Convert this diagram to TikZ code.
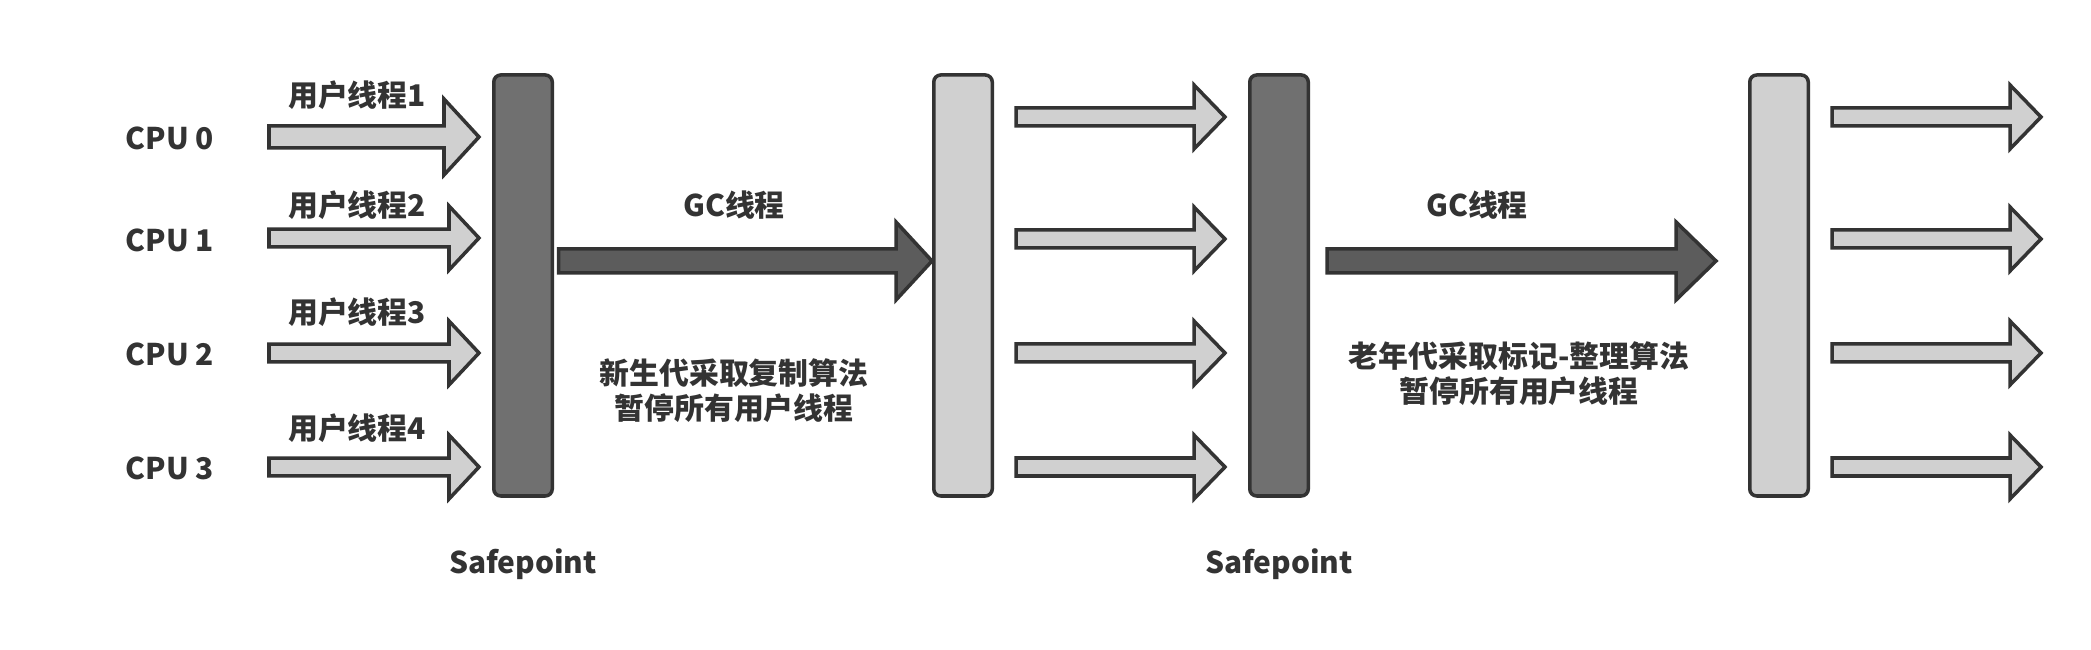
\documentclass[tikz,border=0pt]{standalone}
\usepackage{fontspec}
\newfontfamily\cjk{Noto Sans CJK SC}
\usetikzlibrary{calc}
\definecolor{edgegray}{HTML}{333333}
\definecolor{bardark}{HTML}{707070}
\definecolor{barlight}{HTML}{D0D0D0}
\definecolor{gcgray}{HTML}{5C5C5C}
\def\blockarrow[#1](#2)(#3)(#4:#5:#6){\draw[#1] ($(#2)+(0,-#4)$) -- ($(#3)+(-#6,-#4)$) -- ($(#3)+(-#6,-#5)$) -- (#3) -- ($(#3)+(-#6,#5)$) -- ($(#3)+(-#6,#4)$) -- ($(#2)+(0,#4)$) -- cycle;}

\begin{document}
\begin{tikzpicture}[
		lbl/.style={font=\cjk\bfseries\fontsize{8.5}{10}\selectfont, text=edgegray, inner sep=0, align=center},
		bar/.style={draw=edgegray, line width=1pt, rounded corners=0.07cm, minimum width=0.585cm, minimum height=4.21cm, inner sep=0},
		darkbar/.style={bar, fill=bardark},
		lightbar/.style={bar, fill=barlight},
		userarrow/.style={draw=edgegray, line width=1pt, fill=barlight},
		gcarrow/.style={draw=edgegray, line width=1pt, fill=gcgray}]
			%%%%% START %%%%%
			
			\useasboundingbox (0, 0) rectangle (20.91, 6.5);
			
			\node[darkbar] (safe1) at (5.23, 3.645) {};
			\node[lightbar] (run1) at (9.63, 3.645) {};
			\node[darkbar] (safe2) at (12.79, 3.645) {};
			\node[lightbar] (run2) at (17.79, 3.645) {};
			
			\node[lbl] (cpu0) at (1.70, 5.12) {CPU 0};
			\node[lbl] (cpu1) at (1.70, 4.10) {CPU 1};
			\node[lbl] (cpu2) at (1.70, 2.96) {CPU 2};
			\node[lbl] (cpu3) at (1.70, 1.82) {CPU 3};
			
			\node[lbl] (th1) at (3.57, 5.55) {用户线程1};
			\node[lbl] (th2) at (3.57, 4.45) {用户线程2};
			\node[lbl] (th3) at (3.57, 3.38) {用户线程3};
			\node[lbl] (th4) at (3.57, 2.22) {用户线程4};
			
			% user threads up to the first safepoint
			\coordinate (u0) at (2.69, 5.13);
			\coordinate (u1) at (2.69, 4.12);
			\coordinate (u2) at (2.69, 2.97);
			\coordinate (u3) at (2.69, 1.83);
			\coordinate (u0tip) at ($(safe1.west |- u0)+(-0.13,0)$);
			\coordinate (u1tip) at ($(safe1.west |- u1)+(-0.13,0)$);
			\coordinate (u2tip) at ($(safe1.west |- u2)+(-0.13,0)$);
			\coordinate (u3tip) at ($(safe1.west |- u3)+(-0.13,0)$);
			\blockarrow[userarrow](u0)(u0tip)(0.11:0.38:0.35)
			\blockarrow[userarrow](u1)(u1tip)(0.088:0.32:0.30)
			\blockarrow[userarrow](u2)(u2tip)(0.088:0.32:0.30)
			\blockarrow[userarrow](u3)(u3tip)(0.088:0.32:0.30)
			
			% first GC pause
			\coordinate (gc1) at (5.585, 3.89);
			\blockarrow[gcarrow](gc1)(run1.west |- gc1)(0.12:0.39:0.36)
			\node[lbl] (gc1txt) at (7.34, 4.45) {GC线程};
			\node[lbl] (young) at (7.34, 2.595) {新生代采取复制算法\\暂停所有用户线程};
			
			% user threads again
			\coordinate (v0) at (10.16, 5.33);
			\coordinate (v1) at (10.16, 4.11);
			\coordinate (v2) at (10.16, 2.97);
			\coordinate (v3) at (10.16, 1.83);
			\coordinate (v0tip) at ($(safe2.west |- v0)+(-0.23,0)$);
			\coordinate (v1tip) at ($(safe2.west |- v1)+(-0.23,0)$);
			\coordinate (v2tip) at ($(safe2.west |- v2)+(-0.23,0)$);
			\coordinate (v3tip) at ($(safe2.west |- v3)+(-0.23,0)$);
			\blockarrow[userarrow](v0)(v0tip)(0.09:0.32:0.31)
			\blockarrow[userarrow](v1)(v1tip)(0.09:0.32:0.31)
			\blockarrow[userarrow](v2)(v2tip)(0.09:0.32:0.31)
			\blockarrow[userarrow](v3)(v3tip)(0.09:0.32:0.31)
			
			% second GC pause
			\coordinate (gc2) at (13.27, 3.89);
			\coordinate (gc2tip) at ($(run2.west |- gc2)+(-0.32,0)$);
			\blockarrow[gcarrow](gc2)(gc2tip)(0.12:0.39:0.40)
			\node[lbl] (gc2txt) at (14.77, 4.45) {GC线程};
			\node[lbl] (old) at (15.19, 2.765) {老年代采取标记-整理算法\\暂停所有用户线程};
			
			% user threads after the second pause
			\coordinate (w0) at (18.32, 5.33);
			\coordinate (w1) at (18.32, 4.11);
			\coordinate (w2) at (18.32, 2.97);
			\coordinate (w3) at (18.32, 1.83);
			\coordinate (w0tip) at (20.41, 5.33);
			\coordinate (w1tip) at (20.41, 4.11);
			\coordinate (w2tip) at (20.41, 2.97);
			\coordinate (w3tip) at (20.41, 1.83);
			\blockarrow[userarrow](w0)(w0tip)(0.09:0.32:0.31)
			\blockarrow[userarrow](w1)(w1tip)(0.09:0.32:0.31)
			\blockarrow[userarrow](w2)(w2tip)(0.09:0.32:0.31)
			\blockarrow[userarrow](w3)(w3tip)(0.09:0.32:0.31)
			
			\node[lbl] (sp1txt) at (5.23, 0.86) {Safepoint};
			\node[lbl] (sp2txt) at (12.79, 0.86) {Safepoint};
			
			%%%%% END %%%%%
		\end{tikzpicture}
\end{document}
